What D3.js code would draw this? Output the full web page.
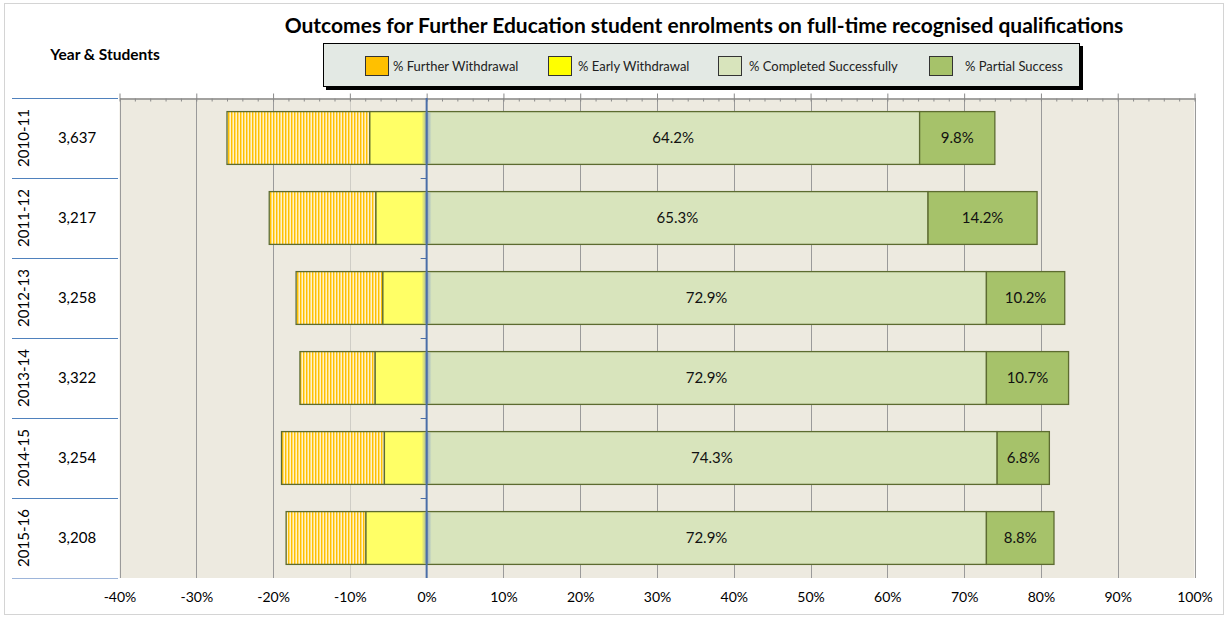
<!DOCTYPE html>
<html>
<head>
<meta charset="utf-8">
<script src="https://cdn.jsdelivr.net/npm/d3@7"></script>
<style>
  body { margin: 0; background: #fff; }
  svg { display: block; font-family: Lato, "Open Sans", sans-serif; }
</style>
</head>
<body>
<div id="chart"></div>
<script>
var years = ['2010-11', '2011-12', '2012-13', '2013-14', '2014-15', '2015-16'],
    students = ['3,637', '3,217', '3,258', '3,322', '3,254', '3,208'],
    earlyWithdrawal = [7.4, 6.6, 5.7, 6.7, 5.5, 7.9],
    furtherWithdrawal = [18.6, 13.9, 11.3, 9.8, 13.4, 10.4],
    completed = [64.2, 65.3, 72.9, 72.9, 74.3, 72.9],
    partial = [9.8, 14.2, 10.2, 10.7, 6.8, 8.8],
    xTicks = [-40, -30, -20, -10, 0, 10, 20, 30, 40, 50, 60, 70, 80, 90, 100];

var legendNames = ['% Further Withdrawal', '% Early Withdrawal', '% Completed Successfully', '% Partial Success'],
    legendColors = ['#FFC000', '#FFFF00', '#D8E4BC', '#A6C26A'];

var width = 1228, height = 617;

var svg = d3.select('#chart').append('svg')
  .attr('width', width)
  .attr('height', height);

// stripe pattern for further withdrawal
var defs = svg.append('defs');
var pat = defs.append('pattern')
  .attr('id', 'stripes')
  .attr('patternUnits', 'userSpaceOnUse')
  .attr('width', 3).attr('height', 10);
pat.append('rect').attr('width', 3).attr('height', 10).attr('fill', '#FFDD70');
pat.append('rect').attr('width', 1).attr('height', 10).attr('fill', '#FFC000');
pat.append('rect').attr('x', 2).attr('width', 0.8).attr('height', 10).attr('fill', '#FFF8E0');

var glow = defs.append('linearGradient').attr('id', 'glow');
glow.append('stop').attr('offset', '0%').attr('stop-color', '#5B7FC8').attr('stop-opacity', 0);
glow.append('stop').attr('offset', '50%').attr('stop-color', '#5B7FC8').attr('stop-opacity', 0.6);
glow.append('stop').attr('offset', '100%').attr('stop-color', '#5B7FC8').attr('stop-opacity', 0);

// outer border
svg.append('rect')
  .attr('x', 4.5).attr('y', 3.5)
  .attr('width', 1219).attr('height', 611)
  .attr('fill', 'none').attr('stroke', '#d4d4d4');

////////////////// scales //////////////////
var x = d3.scaleLinear().domain([-40, 100]).range([119.5, 1194.5]);
var y = d3.scaleBand().domain(years).range([98, 578]).paddingInner(0.34).paddingOuter(0.17);
var band = d3.scaleBand().domain(years).range([98, 578]);

// plot background
svg.append('rect')
  .attr('x', x(-40)).attr('y', 98)
  .attr('width', x(100) - x(-40)).attr('height', 480)
  .attr('fill', '#EDEAE0');

// gridlines
svg.append('g').selectAll('line')
  .data(xTicks.filter(function(d) { return d !== 0; }))
  .enter().append('line')
  .attr('x1', function(d) { return Math.round(x(d)) + 0.5; })
  .attr('x2', function(d) { return Math.round(x(d)) + 0.5; })
  .attr('y1', 98).attr('y2', 578)
  .attr('stroke', function(d) { return d === -10 ? '#cfcdc6' : '#9a9a9a'; });

// top axis: major + minor ticks
var topMajor = svg.append('g')
  .attr('transform', 'translate(0,98.5)')
  .call(d3.axisTop(x).tickValues(xTicks).tickSize(5).tickSizeOuter(0).tickFormat(''));
var topMinor = svg.append('g')
  .attr('transform', 'translate(0,98.5)')
  .call(d3.axisTop(x).tickValues(d3.range(-40, 101, 2)).tickSize(-3).tickSizeOuter(0).tickFormat(''));
[topMajor, topMinor].forEach(function(g) {
  g.selectAll('line').attr('stroke', '#8a8a8a');
  g.select('.domain').attr('stroke', '#8a8a8a');
});

// bottom labels
var bottom = svg.append('g')
  .attr('transform', 'translate(0,589)')
  .call(d3.axisBottom(x).tickValues(xTicks).tickSize(0).tickFormat(function(d) { return d + '%'; }));
bottom.select('.domain').remove();
bottom.selectAll('text').attr('font-size', 14).attr('fill', '#000').attr('font-family', 'Lato, sans-serif');

////////////////// bars //////////////////
var rows = years.map(function(yr, i) {
  return { year: yr, i: i,
    segs: [
      { x0: -earlyWithdrawal[i] - furtherWithdrawal[i], x1: -earlyWithdrawal[i], fill: 'url(#stripes)' },
      { x0: -earlyWithdrawal[i], x1: 0, fill: '#FFFF66' },
      { x0: 0, x1: completed[i], fill: '#D8E4BC', label: completed[i].toFixed(1) + '%' },
      { x0: completed[i], x1: completed[i] + partial[i], fill: '#A6C26A', label: partial[i].toFixed(1) + '%' }
    ] };
});

var barG = svg.append('g').selectAll('g')
  .data(rows)
  .enter().append('g')
  .attr('transform', function(d) { return 'translate(0,' + y(d.year) + ')'; });

barG.selectAll('rect.seg')
  .data(function(d) { return d.segs; })
  .enter().append('rect')
  .attr('class', 'seg')
  .attr('x', function(d) { return x(d.x0); })
  .attr('width', function(d) { return x(d.x1) - x(d.x0); })
  .attr('height', y.bandwidth())
  .attr('fill', function(d) { return d.fill; })
  .attr('stroke', '#5C6B30')
  .attr('stroke-width', 1.3);

barG.append('rect')
  .attr('x', x(0) - 5).attr('width', 10)
  .attr('y', 1).attr('height', y.bandwidth() - 2)
  .attr('fill', 'url(#glow)');

barG.selectAll('text')
  .data(function(d) { return d.segs.filter(function(s) { return s.label; }); })
  .enter().append('text')
  .attr('x', function(d) { return (x(d.x0) + x(d.x1)) / 2; })
  .attr('y', y.bandwidth() / 2)
  .attr('dy', '0.35em')
  .attr('text-anchor', 'middle')
  .attr('font-size', 15)
  .attr('fill', '#111')
  .text(function(d) { return d.label; });

// zero axis
svg.append('line')
  .attr('x1', x(0)).attr('x2', x(0))
  .attr('y1', 98).attr('y2', 578)
  .attr('stroke', '#4A6EA8').attr('stroke-width', 2);
svg.append('g').selectAll('line')
  .data(years.slice(1))
  .enter().append('line')
  .attr('x1', x(0) - 6).attr('x2', x(0))
  .attr('y1', function(d) { return band(d) + 0.5; })
  .attr('y2', function(d) { return band(d) + 0.5; })
  .attr('stroke', '#4A6EA8').attr('stroke-width', 1);

////////////////// left table //////////////////
var table = svg.append('g');
table.selectAll('line')
  .data(d3.range(years.length + 1))
  .enter().append('line')
  .attr('x1', 12).attr('x2', 118)
  .attr('y1', function(d) { return 98.5 + d * band.bandwidth(); })
  .attr('y2', function(d) { return 98.5 + d * band.bandwidth(); })
  .attr('stroke', function(d) { return d === years.length ? '#9DB5DA' : '#4F81BD'; });

table.selectAll('text.year')
  .data(years)
  .enter().append('text')
  .attr('class', 'year')
  .attr('transform', function(d) { return 'translate(24,' + (band(d) + band.bandwidth() / 2) + ') rotate(-90)'; })
  .attr('text-anchor', 'middle')
  .attr('dy', '0.35em')
  .attr('font-size', 15)
  .text(function(d) { return d; });

table.selectAll('text.count')
  .data(students)
  .enter().append('text')
  .attr('class', 'count')
  .attr('x', 77)
  .attr('y', function(d, i) { return band(years[i]) + band.bandwidth() / 2; })
  .attr('dy', '0.35em')
  .attr('text-anchor', 'middle')
  .attr('font-size', 15)
  .text(function(d) { return d; });

svg.append('text')
  .attr('x', 105).attr('y', 55)
  .attr('dy', '0.35em')
  .attr('text-anchor', 'middle')
  .attr('font-size', 15.5)
  .attr('font-weight', 'bold')
  .text('Year & Students');

////////////////// title //////////////////
svg.append('text')
  .attr('x', 704).attr('y', 26)
  .attr('dy', '0.35em')
  .attr('text-anchor', 'middle')
  .attr('font-size', 21)
  .attr('font-weight', 'bold')
  .text('Outcomes for Further Education student enrolments on full-time recognised qualifications');

////////////////// legend //////////////////
var legend = svg.append('g');
legend.append('rect')
  .attr('x', 326).attr('y', 46).attr('width', 757).attr('height', 44)
  .attr('fill', '#000');
legend.append('rect')
  .attr('x', 323.5).attr('y', 43.5).attr('width', 756).attr('height', 43)
  .attr('fill', '#E3E9E4').attr('stroke', '#000').attr('stroke-width', 1);

var legendX = [365, 548, 718, 929],
    legendTextX = [393, 578, 749, 965];

legend.selectAll('rect.sw')
  .data(legendNames)
  .enter().append('rect')
  .attr('class', 'sw')
  .attr('x', function(d, i) { return legendX[i] + 0.5; })
  .attr('y', 56.5)
  .attr('width', 23).attr('height', 19)
  .attr('fill', function(d, i) { return legendColors[i]; })
  .attr('stroke', '#333');

legend.selectAll('text')
  .data(legendNames)
  .enter().append('text')
  .attr('x', function(d, i) { return legendTextX[i]; })
  .attr('y', 66)
  .attr('dy', '0.35em')
  .attr('font-size', 13)
  .attr('fill', '#222')
  .text(function(d) { return d; });
</script>
</body>
</html>
